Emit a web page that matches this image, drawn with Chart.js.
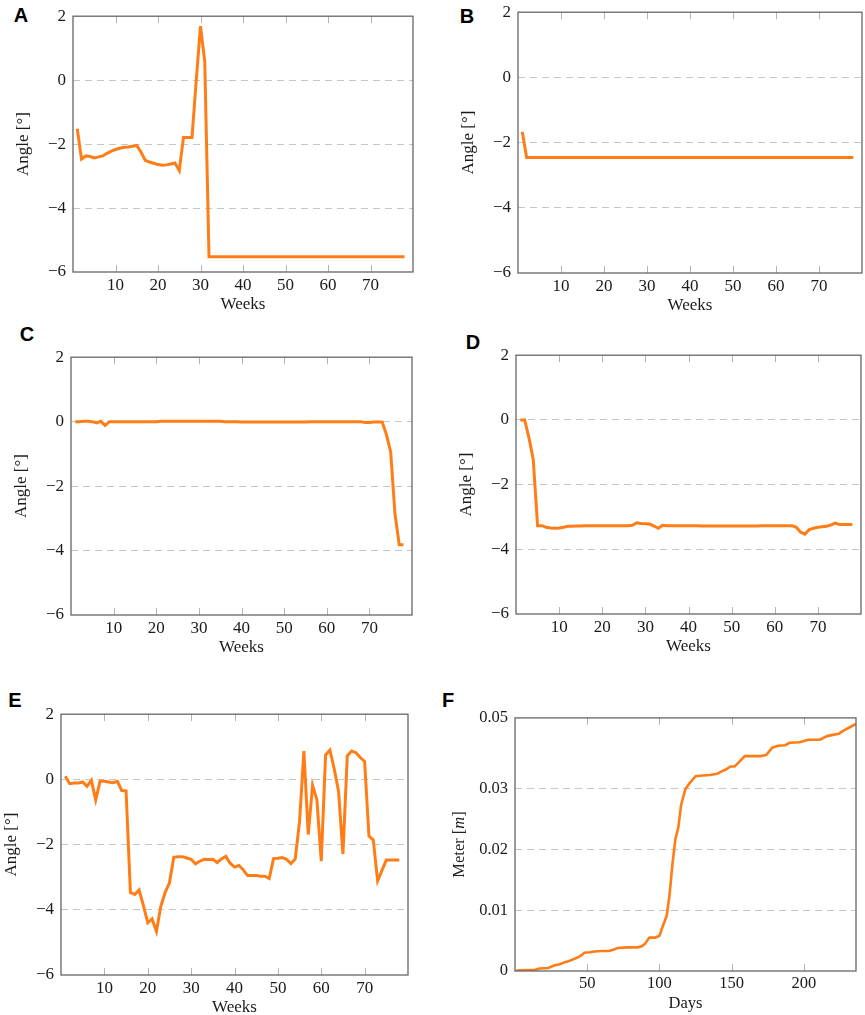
<!DOCTYPE html>
<html><head><meta charset="utf-8">
<script src="https://cdn.jsdelivr.net/npm/chart.js@4.4.1/dist/chart.umd.min.js"></script>
<style>
html,body{margin:0;padding:0;background:#fff;width:865px;height:1015px;overflow:hidden;position:relative}
canvas{position:absolute}
.lab{position:absolute;font:bold 20px "Liberation Sans",Arial,sans-serif;color:#000;line-height:20px;transform:translate(-50%,-50%)}
</style></head><body>
<div class="lab" style="left:21px;top:15px">A</div>
<div class="lab" style="left:467px;top:16px">B</div>
<div class="lab" style="left:27px;top:334px">C</div>
<div class="lab" style="left:473px;top:342px">D</div>
<div class="lab" style="left:15px;top:700px">E</div>
<div class="lab" style="left:448px;top:700px">F</div>
<canvas id="cA"></canvas><canvas id="cB"></canvas><canvas id="cC"></canvas>
<canvas id="cD"></canvas><canvas id="cE"></canvas><canvas id="cF"></canvas>
<script>
const weeks = [1,2,3,4,5,6,7,8,9,10,11,12,13,14,15,16,17,18,19,20,21,22,23,24,25,26,27,28,29,30,31,32,33,34,35,36,37,38,39,40,41,42,43,44,45,46,47,48,49,50,51,52,53,54,55,56,57,58,59,60,61,62,63,64,65,66,67,68,69,70,71,72,73,74,75,76,77,78];

const angleA = [-1.52,-2.47,-2.37,-2.39,-2.43,-2.40,-2.37,-2.29,-2.22,-2.17,
-2.13,-2.10,-2.09,-2.07,-2.04,-2.25,-2.51,-2.56,-2.60,-2.64,
-2.66,-2.65,-2.62,-2.59,-2.83,-1.79,-1.79,-1.79,0.00,1.69,
0.59,-5.52,-5.52,-5.52,-5.52,-5.52,-5.52,-5.52,-5.52,-5.52,
-5.52,-5.52,-5.52,-5.52,-5.52,-5.52,-5.52,-5.52,-5.52,-5.52,
-5.52,-5.52,-5.52,-5.52,-5.52,-5.52,-5.52,-5.52,-5.52,-5.52,
-5.52,-5.52,-5.52,-5.52,-5.52,-5.52,-5.52,-5.52,-5.52,-5.52,
-5.52,-5.52,-5.52,-5.52,-5.52,-5.52,-5.52,-5.52];

const angleB = [-1.67,-2.46,-2.46,-2.46,-2.46,-2.46,-2.46,-2.46,-2.46,-2.46,
-2.46,-2.46,-2.46,-2.46,-2.46,-2.46,-2.46,-2.46,-2.46,-2.46,
-2.46,-2.46,-2.46,-2.46,-2.46,-2.46,-2.46,-2.46,-2.46,-2.46,
-2.46,-2.46,-2.46,-2.46,-2.46,-2.46,-2.46,-2.46,-2.46,-2.46,
-2.46,-2.46,-2.46,-2.46,-2.46,-2.46,-2.46,-2.46,-2.46,-2.46,
-2.46,-2.46,-2.46,-2.46,-2.46,-2.46,-2.46,-2.46,-2.46,-2.46,
-2.46,-2.46,-2.46,-2.46,-2.46,-2.46,-2.46,-2.46,-2.46,-2.46,
-2.46,-2.46,-2.46,-2.46,-2.46,-2.46,-2.46,-2.46];

const angleC = [0.00,0.00,0.01,0.01,0.00,-0.04,0.01,-0.12,0.00,0.00,
0.00,0.00,0.00,0.00,0.00,0.00,0.00,0.00,0.00,0.00,
0.01,0.01,0.01,0.01,0.01,0.01,0.01,0.01,0.01,0.01,
0.01,0.01,0.01,0.01,0.01,0.00,0.00,0.00,0.00,-0.01,
-0.01,-0.01,-0.01,-0.01,-0.01,-0.01,-0.01,-0.01,-0.01,-0.01,
-0.01,-0.01,-0.01,-0.01,-0.01,0.00,0.00,0.00,0.00,0.00,
0.00,0.00,0.00,0.00,0.00,0.00,0.00,0.00,-0.03,-0.03,
-0.01,-0.01,-0.01,-0.40,-0.95,-2.85,-3.82,-3.82];

const angleD = [0.00,0.00,-0.55,-1.23,-3.27,-3.27,-3.32,-3.34,-3.35,-3.34,
-3.32,-3.29,-3.29,-3.28,-3.28,-3.27,-3.27,-3.27,-3.27,-3.27,
-3.27,-3.27,-3.27,-3.27,-3.27,-3.27,-3.26,-3.18,-3.20,-3.21,
-3.22,-3.28,-3.35,-3.26,-3.27,-3.27,-3.27,-3.27,-3.27,-3.27,
-3.27,-3.27,-3.28,-3.28,-3.28,-3.28,-3.28,-3.28,-3.28,-3.28,
-3.28,-3.28,-3.28,-3.28,-3.28,-3.28,-3.27,-3.27,-3.27,-3.27,
-3.27,-3.27,-3.27,-3.27,-3.32,-3.47,-3.53,-3.39,-3.35,-3.32,
-3.30,-3.29,-3.25,-3.19,-3.23,-3.23,-3.23,-3.23];

const angleE = [0.10,-0.13,-0.11,-0.11,-0.08,-0.21,-0.03,-0.63,-0.06,-0.06,
-0.08,-0.10,-0.06,-0.34,-0.35,-3.47,-3.53,-3.39,-3.87,-4.40,
-4.28,-4.66,-3.90,-3.47,-3.17,-2.39,-2.37,-2.37,-2.41,-2.45,
-2.59,-2.51,-2.45,-2.46,-2.45,-2.55,-2.44,-2.36,-2.57,-2.69,
-2.64,-2.77,-2.95,-2.95,-2.95,-2.97,-2.97,-3.04,-2.43,-2.42,
-2.40,-2.45,-2.58,-2.44,-1.29,0.87,-1.69,-0.18,-0.63,-2.51,
0.75,0.90,0.32,-0.38,-2.29,0.72,0.87,0.82,0.67,0.55,
-1.74,-1.86,-3.11,-2.79,-2.47,-2.47,-2.47,-2.47];

const days = [0,3,10,14,17,23,27,31,35,38,41,44,46,48,52,55,60,65,68,71,78,85,88,90,93,97,100,102,105,107,109,111,113,115,118,121,125,130,135,140,143,146,149,152,155,159,165,170,174,178,182,187,190,197,203,211,216,220,224,228,232,236];
const meter = [0,0.0001,0.00016,0.0002,0.0004,0.0005,0.0009,0.0011,0.0015,0.0017,
0.0020,0.0023,0.0026,0.0030,0.0031,0.0032,0.0033,0.0033,0.0035,0.0038,
0.0039,0.0039,0.0041,0.0045,0.0055,0.0055,0.0058,0.0072,0.0091,0.0126,
0.0177,0.0217,0.0236,0.0274,0.0300,0.0310,0.0321,0.0322,0.0323,0.0325,
0.0329,0.0332,0.0337,0.0337,0.0344,0.0354,0.0354,0.0354,0.0356,0.0368,
0.0371,0.0372,0.0376,0.0377,0.0381,0.0381,0.0387,0.0389,0.0391,0.0397,
0.0402,0.0407];

const weekTicks = [10,20,30,40,50,60,70];
const angleTicks = [-6,-4,-2,0,2];
const dayTicks = [50,100,150,200];
const meterTickValues = [0,0.01,0.02,0.03,0.0417];
const meterTickLabels = ['0','0.01','0.02','0.03','0.05'];

const ORANGE = '#ff7d17';
const SERIF = '"Liberation Serif","Times New Roman",serif';
const PADL = 75, PADT = 12, PADR = 8, AXH = 45;

const framePlugin = {
  id: 'frame',
  beforeDatasetsDraw(chart) {
    const {ctx, chartArea: a, scales: {x}} = chart;
    ctx.save();
    ctx.strokeStyle = '#b3b3b3'; ctx.lineWidth = 1;
    x.ticks.forEach(t => {
      const px = Math.round(x.getPixelForValue(t.value)) + 0.5;
      ctx.beginPath();
      ctx.moveTo(px, a.bottom); ctx.lineTo(px, a.bottom - 7);
      ctx.moveTo(px, a.top); ctx.lineTo(px, a.top + 7);
      ctx.stroke();
    });
    ctx.restore();
  },
  afterDatasetsDraw(chart) {
    const {ctx, chartArea: a} = chart;
    ctx.save();
    ctx.strokeStyle = '#666'; ctx.lineWidth = 1.3;
    ctx.strokeRect(a.left, a.top, a.right - a.left, a.bottom - a.top);
    ctx.restore();
  }
};

// y title with mixed styles (for "Meter [m]" with italic m)
const mixedTitlePlugin = {
  id: 'mixedTitle',
  afterDraw(chart, args, opts) {
    if (!opts || !opts.parts) return;
    const {ctx, chartArea: a} = chart;
    ctx.save();
    const cy = (a.top + a.bottom) / 2;
    ctx.translate(opts.x, cy);
    ctx.rotate(-Math.PI / 2);
    ctx.fillStyle = '#222';
    ctx.textBaseline = 'middle';
    ctx.textAlign = 'left';
    let total = 0;
    const widths = opts.parts.map(p => {
      ctx.font = (p.italic ? 'italic ' : '') + opts.size + 'px ' + SERIF;
      const w = ctx.measureText(p.t).width; total += w; return w;
    });
    let xx = -total / 2;
    opts.parts.forEach((p, i) => {
      ctx.font = (p.italic ? 'italic ' : '') + opts.size + 'px ' + SERIF;
      ctx.fillText(p.t, xx, 0);
      xx += widths[i];
    });
    ctx.restore();
  }
};

function makePanel(id, box, xs, ys, cfg) {
  const [L, T, R, B] = box;
  const cv = document.getElementById(id);
  const w = R - L + PADL + PADR, h = B - T + PADT + AXH;
  cv.width = w; cv.height = h;
  cv.style.left = (L - PADL) + 'px'; cv.style.top = (T - PADT) + 'px';
  cv.style.width = w + 'px'; cv.style.height = h + 'px';
  const pts = xs.map((v, i) => ({x: v, y: ys[i]}));
  const nY = cfg.yTicks.length;
  new Chart(cv, {
    type: 'line',
    data: {datasets: [{data: pts, borderColor: ORANGE, borderWidth: cfg.lw, pointRadius: 0, tension: 0, fill: false}]},
    options: {
      responsive: false, animation: false, devicePixelRatio: 1,
      layout: {padding: {top: PADT, right: PADR, bottom: 0, left: 0}},
      plugins: {legend: {display: false}, tooltip: {enabled: false}, mixedTitle: cfg.mixedTitle || {}},
      scales: {
        x: {
          type: 'linear', min: cfg.xMin, max: cfg.xMax,
          afterBuildTicks: s => { s.ticks = cfg.xTicks.map(v => ({value: v})); },
          afterFit: s => { s.height = AXH; },
          grid: {display: false, drawTicks: false},
          border: {display: false},
          ticks: {padding: 3, color: '#1a1a1a', font: {family: SERIF, size: cfg.fs}, maxRotation: 0,
                  callback: v => String(v)},
          title: {display: true, text: cfg.xTitle, color: '#1a1a1a', font: {family: SERIF, size: cfg.fs}, padding: {top: 0, bottom: 2}}
        },
        y: {
          type: 'linear', min: cfg.yMin, max: cfg.yMax,
          afterBuildTicks: s => { s.ticks = cfg.yTicks.map(v => ({value: v})); },
          afterFit: s => { s.width = PADL; },
          grid: {drawTicks: false, lineWidth: 1,
                 color: c => (c.index === 0 || c.index === nY - 1) ? 'rgba(0,0,0,0)' : '#c6c6c6'},
          border: {display: false, dash: [7, 5]},
          ticks: {padding: 7, color: '#1a1a1a', font: {family: SERIF, size: cfg.fs},
                  callback: (v, i) => cfg.yLabel(v, i)},
          title: {display: !cfg.mixedTitle, text: cfg.yTitle, color: '#1a1a1a', font: {family: SERIF, size: cfg.fs}, padding: {top: cfg.yTitlePad, bottom: 0}}
        }
      }
    },
    plugins: [framePlugin, mixedTitlePlugin]
  });
}

const angleLabel = v => String(v).replace('-', '\u2212');
const angleCfg = {lw: 3, fs: 17, xMin: 0, xMax: 80, xTicks: weekTicks, xTitle: 'Weeks',
  yMin: -6, yMax: 2, yTicks: angleTicks, yTitle: 'Angle [°]', yTitlePad: 15, yLabel: angleLabel};

makePanel('cA', [73, 11, 413, 272], weeks, angleA, angleCfg);
makePanel('cB', [518, 7, 862, 273], weeks, angleB, angleCfg);
makePanel('cC', [71, 352, 412, 615], weeks, angleC, angleCfg);
makePanel('cD', [516, 350, 861, 614], weeks, angleD, angleCfg);
makePanel('cE', [61, 709, 408, 975], weeks, angleE, angleCfg);
makePanel('cF', [515, 713, 856, 971], days, meter, {lw: 2.6, fs: 16.5, xMin: 0, xMax: 236, xTicks: dayTicks, xTitle: 'Days',
  yMin: 0, yMax: 0.0417, yTicks: meterTickValues, yTitle: 'Meter [m]', yTitlePad: 10,
  yLabel: (v, i) => meterTickLabels[i],
  mixedTitle: {x: 20, size: 16.5, parts: [{t: 'Meter ['}, {t: 'm', italic: true}, {t: ']'}]}});
</script>
</body></html>
